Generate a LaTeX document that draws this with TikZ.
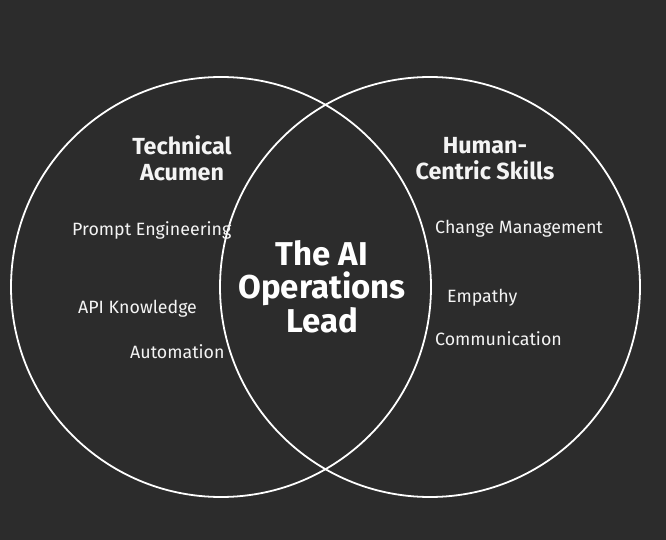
\documentclass[tikz,border=0pt]{standalone}
\usepackage{fontspec}
\setmainfont{Fira Sans}
\usepackage{tikz}
\usetikzlibrary{positioning}
\definecolor{vennbg}{HTML}{2C2C2C}
\definecolor{venntext}{HTML}{F4F4F4}

\begin{document}
\begin{tikzpicture}[x=1pt, y=-1pt,
  ring/.style={circle, draw=white, line width=1.8pt, minimum size=420pt, inner sep=0pt},
  head/.style={text=venntext, font=\bfseries\fontsize{23.3}{26}\selectfont, align=center, anchor=base, inner sep=0pt},
  skill/.style={text=venntext, font=\fontsize{17.8}{20}\selectfont, anchor=base west, inner sep=0pt},
  core/.style={text=white, font=\bfseries\fontsize{33}{33.5}\selectfont, align=center, anchor=base, inner sep=0pt}]
  % canvas
  \fill[vennbg] (0,0) rectangle (666,540);
  \useasboundingbox (0,0) rectangle (666,540);

  % the two sets
  \node[ring] (tech) at (221,287) {};
  \node[ring] (human) at (430,287) {};

  % set titles (base = last line)
  \node[head] (techhead) at (182,181) {Technical\\Acumen};
  \node[head] (humanhead) at (485,179) {Human-\\Centric Skills};

  % overlap
  \node[core] (lead) at (322,332) {The AI\\Operations\\Lead};

  % technical skills
  \node[skill] (prompt) at (72,235) {Prompt Engineering};
  \node[skill] (api) at (78,313) {API Knowledge};
  \node[skill] (auto) at (130,358) {Automation};

  % human skills
  \node[skill] (change) at (435,233) {Change Management};
  \node[skill] (empathy) at (447,302) {Empathy};
  \node[skill] (comm) at (435,345) {Communication};
\end{tikzpicture}
\end{document}
